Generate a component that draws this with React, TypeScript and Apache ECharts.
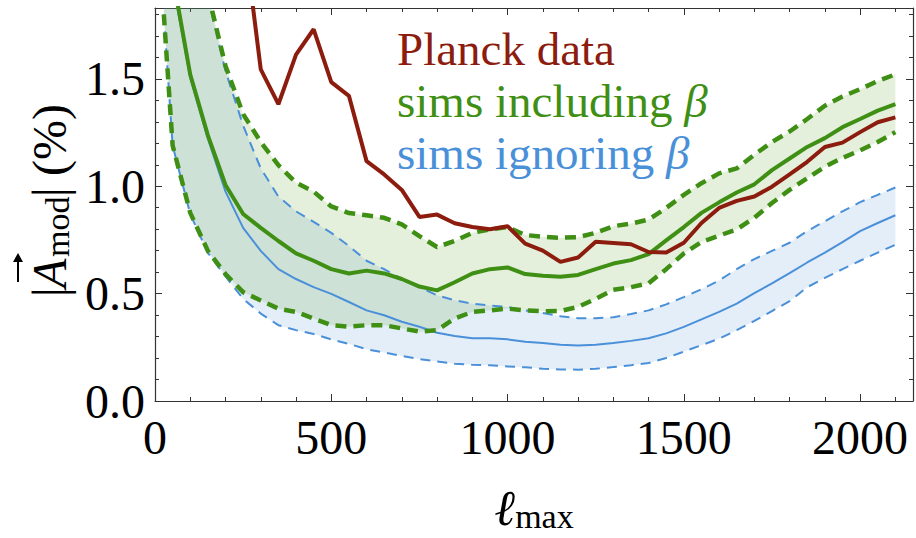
import React, { useEffect, useRef } from "react";
import * as echarts from "echarts";

// multipole cutoff values
const ell = [25, 50, 100, 150, 200, 250, 300, 350, 400, 450, 500, 550, 600, 650, 700, 750, 800, 850, 900, 950, 1000, 1050, 1100, 1150, 1200, 1250, 1300, 1350, 1400, 1450, 1500, 1550, 1600, 1650, 1700, 1750, 1800, 1850, 1900, 1950, 2000, 2050, 2100];

const planck = [null, null, null, null, null, 2.2, 1.544, 1.382, 1.613, 1.731, 1.485, 1.421, 1.117, 1.055, 0.983, 0.857, 0.868, 0.828, 0.81, 0.8, 0.814, 0.733, 0.7, 0.648, 0.668, 0.742, 0.736, 0.73, 0.694, 0.691, 0.737, 0.829, 0.899, 0.932, 0.952, 0.998, 1.055, 1.114, 1.183, 1.203, 1.252, 1.298, 1.321];

const inclMid = [3.2, 1.98, 1.52, 1.237, 1.006, 0.871, 0.806, 0.745, 0.687, 0.653, 0.614, 0.594, 0.607, 0.594, 0.568, 0.533, 0.515, 0.553, 0.594, 0.614, 0.622, 0.591, 0.583, 0.579, 0.587, 0.614, 0.64, 0.656, 0.684, 0.748, 0.81, 0.876, 0.925, 0.971, 1.009, 1.075, 1.129, 1.183, 1.224, 1.275, 1.313, 1.352, 1.382];
const inclHigh = [6, 4.5, 3.0, 1.9, 1.56, 1.336, 1.206, 1.098, 1.017, 0.975, 0.906, 0.875, 0.865, 0.853, 0.822, 0.768, 0.717, 0.745, 0.783, 0.799, 0.81, 0.773, 0.765, 0.76, 0.763, 0.783, 0.814, 0.826, 0.845, 0.899, 0.96, 1.014, 1.06, 1.083, 1.147, 1.206, 1.255, 1.313, 1.375, 1.418, 1.452, 1.49, 1.521];
const inclLow = [1.8, 1.19, 0.876, 0.699, 0.591, 0.507, 0.468, 0.43, 0.415, 0.384, 0.353, 0.346, 0.353, 0.353, 0.338, 0.323, 0.33, 0.384, 0.415, 0.422, 0.43, 0.422, 0.418, 0.419, 0.438, 0.476, 0.518, 0.53, 0.548, 0.614, 0.687, 0.74, 0.77, 0.799, 0.853, 0.922, 0.983, 1.037, 1.091, 1.132, 1.167, 1.206, 1.252];

const ignMid = [3.1, 1.95, 1.505, 1.221, 0.975, 0.806, 0.699, 0.614, 0.568, 0.53, 0.499, 0.461, 0.422, 0.399, 0.369, 0.346, 0.318, 0.303, 0.292, 0.292, 0.287, 0.276, 0.27, 0.262, 0.258, 0.262, 0.27, 0.28, 0.292, 0.315, 0.345, 0.38, 0.415, 0.453, 0.502, 0.548, 0.595, 0.645, 0.691, 0.74, 0.791, 0.829, 0.865];
const ignHigh = [6, 4.5, 3.0, 1.88, 1.536, 1.283, 1.083, 0.952, 0.883, 0.834, 0.783, 0.722, 0.653, 0.614, 0.568, 0.53, 0.492, 0.469, 0.453, 0.445, 0.438, 0.422, 0.41, 0.395, 0.385, 0.385, 0.39, 0.405, 0.422, 0.45, 0.484, 0.52, 0.561, 0.614, 0.661, 0.699, 0.737, 0.791, 0.837, 0.883, 0.926, 0.96, 0.994];
const ignLow = [1.8, 1.19, 0.87, 0.69, 0.58, 0.476, 0.407, 0.353, 0.33, 0.312, 0.287, 0.266, 0.241, 0.226, 0.21, 0.195, 0.184, 0.174, 0.169, 0.166, 0.161, 0.157, 0.15, 0.147, 0.146, 0.15, 0.158, 0.167, 0.177, 0.2, 0.23, 0.26, 0.29, 0.33, 0.373, 0.419, 0.465, 0.53, 0.573, 0.614, 0.653, 0.691, 0.727];

const xTicks = [0, 500, 1000, 1500, 2000];
const yTicks = [0, 0.5, 1.0, 1.5];

const SERIF = "Liberation Serif";
const RED = "#8c1c0e";
const GREEN = "#3f8f14";
const BLUE = "#4a90d9";
const AXIS = "#333";

const pairs = (ys: (number | null)[]) => ell.map((x, i) => [x, ys[i]]);

function bandSeries(lo: number[], hi: number[], fill: string) {
  return {
    type: "custom",
    silent: true,
    clip: true,
    data: ell.map((x, i) => [x, lo[i], hi[i]]),
    encode: { x: 0, y: [1, 2] },
    renderItem: (params: any, api: any) => {
      if (params.dataIndex !== 0) return null;
      const top = ell.map((x, i) => api.coord([x, hi[i]]));
      const bottom = ell.map((x, i) => api.coord([x, lo[i]])).reverse();
      return { type: "polygon", shape: { points: top.concat(bottom) }, style: { fill } };
    },
  };
}

function makeAxis(kind: "x" | "y", position: string, major: boolean, labels: boolean) {
  const isX = kind === "x";
  const ax: any = {
    type: "value",
    position,
    min: 0,
    max: isX ? 2150 : 1.83,
    interval: major ? (isX ? 500 : 0.5) : isX ? 100 : 0.1,
    axisLine: { show: major, onZero: false, lineStyle: { color: AXIS, width: 1.2 } },
    axisTick: { show: true, inside: true, length: major ? 7 : 4, lineStyle: { color: AXIS, width: 1 } },
    splitLine: { show: false },
    axisLabel: { show: false },
  };
  if (labels) {
    ax.axisLabel = {
      show: true,
      fontFamily: SERIF,
      fontSize: 48,
      color: "#000",
      margin: isX ? 12 : 10,
      formatter: (v: number) => {
        if (isX) return xTicks.includes(v) ? String(v) : "";
        const hit = yTicks.find((t) => Math.abs(t - v) < 1e-6);
        return hit !== undefined ? hit.toFixed(1) : "";
      },
    };
  }
  return ax;
}

function legendText(y: number, text: string, color: string) {
  return {
    type: "text", x: 397, y,
    style: {
      text, fill: color, fontFamily: SERIF, fontSize: 47, lineHeight: 40, verticalAlign: "middle",
      rich: { b: { fontFamily: SERIF, fontSize: 47, fontStyle: "italic", fill: color, lineHeight: 40 } },
    },
  };
}

export default function App() {
  const ref = useRef<HTMLDivElement>(null);
  useEffect(() => {
    document.body.style.margin = "0";
    const chart = echarts.init(ref.current!, null, { renderer: "svg" });
    const xBottom = makeAxis("x", "bottom", true, true);
    xBottom.name = "{l|ℓ}{s|max}";
    xBottom.nameLocation = "middle";
    xBottom.nameGap = 82;
    xBottom.nameTextStyle = {
      rich: {
        l: { fontFamily: SERIF, fontSize: 50, fontStyle: "italic", color: "#000", lineHeight: 50 },
        s: { fontFamily: SERIF, fontSize: 34, color: "#000", lineHeight: 30, verticalAlign: "bottom" },
      },
    };
    const txt = (x: number, y: number, text: string, size: number, italic = false) => ({
      type: "text", x, y,
      style: { text, fill: "#000", fontFamily: SERIF, fontSize: size, fontStyle: italic ? "italic" : "normal", align: "left", verticalAlign: "middle" },
    });
    const option: any = {
      animation: false,
      grid: { left: 155, right: 1, top: 8, bottom: 133, containLabel: false },
      xAxis: [
        xBottom,
        makeAxis("x", "bottom", false, false),
        makeAxis("x", "top", true, false),
        makeAxis("x", "top", false, false),
      ],
      yAxis: [
        makeAxis("y", "left", true, true),
        makeAxis("y", "left", false, false),
        makeAxis("y", "right", true, false),
        makeAxis("y", "right", false, false),
      ],
      series: [
        bandSeries(ignLow, ignHigh, "rgba(74,144,217,0.15)"),
        bandSeries(inclLow, inclHigh, "rgba(90,160,30,0.155)"),
        { type: "line", data: pairs(ignLow), symbol: "none", lineStyle: { color: BLUE, width: 2, type: [10, 7] } },
        { type: "line", data: pairs(ignHigh), symbol: "none", lineStyle: { color: BLUE, width: 2, type: [10, 7] } },
        { type: "line", data: pairs(ignMid), symbol: "none", lineStyle: { color: BLUE, width: 2 } },
        { type: "line", data: pairs(inclLow), symbol: "none", lineStyle: { color: GREEN, width: 4.5, type: [11, 7] } },
        { type: "line", data: pairs(inclHigh), symbol: "none", lineStyle: { color: GREEN, width: 4.5, type: [11, 7] } },
        { type: "line", data: pairs(inclMid), symbol: "none", lineStyle: { color: GREEN, width: 4 } },
        { type: "line", data: pairs(planck), symbol: "none", connectNulls: false, lineStyle: { color: RED, width: 4 } },
      ],
      graphic: [
        legendText(49, "Planck data", RED),
        legendText(101, "sims including {b|β}", GREEN),
        legendText(153, "sims ignoring {b|β}", BLUE),
        {
          type: "group", x: 49, y: 200, rotation: Math.PI / 2,
          children: [
            txt(-97, 0, "|", 48),
            txt(-88, 0, "A", 48, true),
            txt(-57, 8, "mod", 34),
            txt(3, 0, "|", 48),
            txt(24, 0, "(%)", 48),
            { type: "line", shape: { x1: -82, y1: -31, x2: -58, y2: -31 }, style: { stroke: "#000", lineWidth: 2 } },
            { type: "polygon", shape: { points: [[-53, -31], [-62, -36], [-62, -26]] }, style: { fill: "#000" } },
          ],
        },
      ],
    };
    chart.setOption(option);
    return () => chart.dispose();
  }, []);
  return <div ref={ref} style={{ width: 916, height: 538 }} />;
}
